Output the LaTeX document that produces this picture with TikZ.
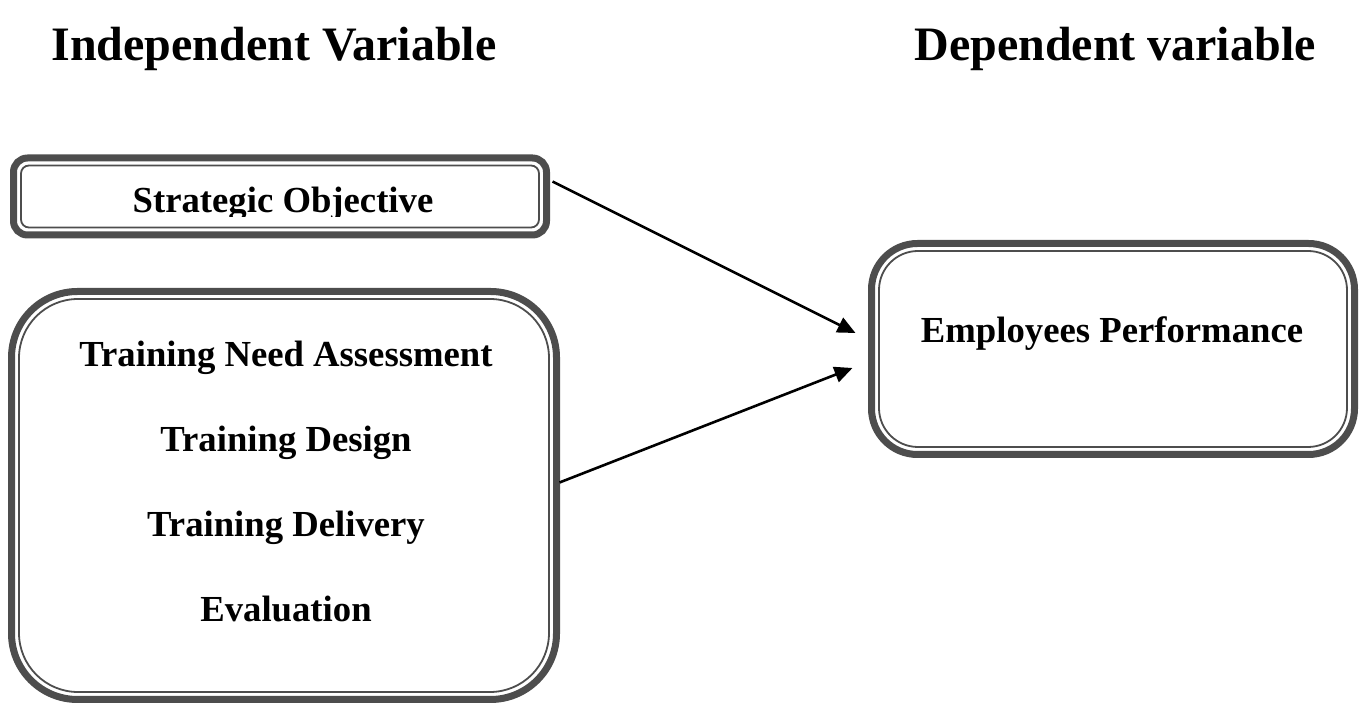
\documentclass[tikz,border=0pt]{standalone}
\usepackage{fontspec}
\setmainfont{Liberation Serif}
\usetikzlibrary{arrows.meta,positioning}
\definecolor{framegray}{RGB}{77,77,77}

\begin{document}
\begin{tikzpicture}[x=1pt,y=1pt,->,>={Triangle[length=18pt,width=16pt]},line width=2.6pt,
                    frame/.style={draw=framegray,line width=7pt,inner sep=0pt,outer sep=0pt},
                    inner frame/.style={-,draw=framegray,line width=1.8pt},
                    heading/.style={font=\bfseries\fontsize{48}{58}\selectfont,anchor=base},
                    itemtext/.style={font=\bfseries\fontsize{36.7}{44}\selectfont,anchor=base}]

  \useasboundingbox (0,0) rectangle (1361,704);

  % headings
  \node[heading] (iv) at (274,643) {Independent Variable};
  \node[heading] (dv) at (1115,643) {Dependent variable};

  % the three framed boxes
  \node[frame,rounded corners=14,minimum width=533,minimum height=77] (so) at (280,507.5) {};
  \node[frame,rounded corners=66,minimum width=545,minimum height=408] (tr) at (284,208.5) {};
  \node[frame,rounded corners=46,minimum width=483,minimum height=211] (ep) at (1113,355) {};

  \foreach \n/\r in {so/8, tr/59, ep/39}
    \draw[inner frame,rounded corners=\r] ([shift={(7.5,7.5)}]\n.south west) rectangle ([shift={(-7.5,-7.5)}]\n.north east);

  % box texts
  \begin{scope}
    \clip (0,487) rectangle (1361,704);
    \node[itemtext] (obj) at (283,491) {Strategic Objective};
  \end{scope}

  \node[itemtext] (tna) at (286,337) {Training Need Assessment};
  \node[itemtext,below=85pt of tna.base,anchor=base] (des) {Training Design};
  \node[itemtext,below=85pt of des.base,anchor=base] (del) {Training Delivery};
  \node[itemtext,below=85pt of del.base,anchor=base] (eva) {Evaluation};

  \node[itemtext] (perf) at (1112,361) {Employees Performance};

  % arrows into the dependent variable
  \draw ([shift={(6,15)}]so.east) -- ([shift={(-16,16)}]ep.west);
  \draw ([shift={(3,13)}]tr.east) -- ([shift={(-19,-19)}]ep.west);
\end{tikzpicture}
\end{document}
